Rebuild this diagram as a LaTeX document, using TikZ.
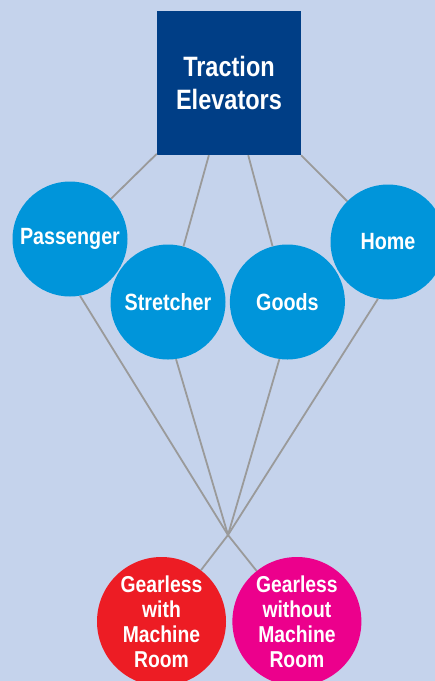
\documentclass[tikz,border=0pt]{standalone}
\usepackage{fontspec}
\setmainfont{Liberation Sans}[FakeStretch=0.84]
\usetikzlibrary{positioning}

\definecolor{bgblue}{HTML}{C5D3EC}
\definecolor{navy}{HTML}{003E86}
\definecolor{sky}{HTML}{0095DA}
\definecolor{gearred}{HTML}{ED1C24}
\definecolor{gearpink}{HTML}{EC008C}
\definecolor{wire}{HTML}{9A9A9A}

\begin{document}
\begin{tikzpicture}[
    x=1pt, y=-1pt,
    align=center,
    head/.style={rectangle, fill=navy, text=white, minimum size=144pt,
      inner sep=0pt, font=\bfseries\fontsize{28}{33}\selectfont},
    kind/.style={circle, fill=sky, text=white, minimum size=115pt,
      inner sep=0pt, font=\bfseries\fontsize{23.5}{28}\selectfont},
    drive/.style={circle, text=white, minimum size=129pt,
      inner sep=0pt, font=\bfseries\fontsize{23}{25}\selectfont,
      execute at begin node={\rule{0pt}{30pt}}},
    link/.style={wire, line width=1.8pt}
  ]

  % page and background
  \useasboundingbox (0,0) rectangle (435,681);
  \clip (0,0) rectangle (435,681);
  \fill[bgblue] (0,0) rectangle (435,681);

  % layout the nodes

  \node (traction)  [head] at (229,83)           {Traction\\Elevators};

  \node (passenger) [kind] at (70,239)           {Passenger};
  \node (stretcher) [kind] at (168,302)          {Stretcher};
  \node (goods)     [kind, right=4pt of stretcher] {Goods};
  \node (home)      [kind] at (388,242)          {Home};

  \node (withroom)  [drive, fill=gearred] at (161.5,621.5)
                                                 {Gearless\\with\\Machine\\Room};
  \node (noroom)    [drive, fill=gearpink, right=6pt of withroom]
                                                 {Gearless\\without\\Machine\\Room};

  % all uses meet in one point
  \coordinate (meet) at (228,535);

  \draw[link] (traction) edge (passenger)
                         edge (stretcher)
                         edge (goods)
                         edge (home);

  \draw[link] (meet) edge (passenger.-80)
                     edge (stretcher.-82)
                     edge (goods.-98)
                     edge (home.-100)
                     edge (withroom)
                     edge (noroom);

\end{tikzpicture}
\end{document}
